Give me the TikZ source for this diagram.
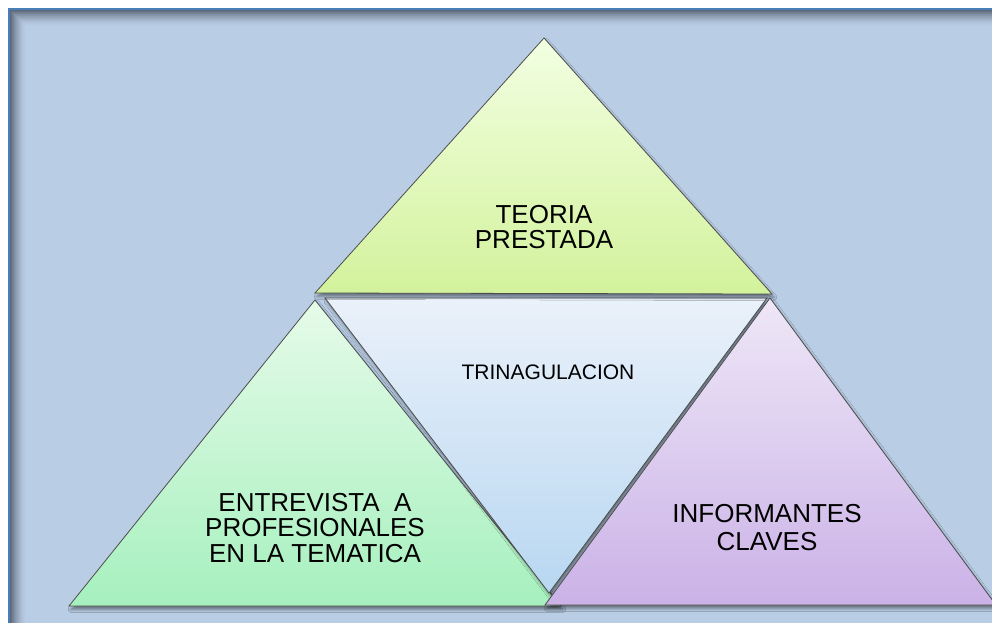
\documentclass[tikz,border=0pt]{standalone}
\usepackage{fontspec}
\setmainfont{Liberation Sans}
\usetikzlibrary{shadows.blur}
\definecolor{bg}{HTML}{B9CDE5}
\definecolor{frameblue}{HTML}{4A7EBB}
\definecolor{shd}{HTML}{4E5868}
\definecolor{edge}{HTML}{4D4D4D}
\definecolor{topA}{HTML}{F2FFE2}
\definecolor{topB}{HTML}{D3F29C}
\definecolor{leftA}{HTML}{E6FBE9}
\definecolor{leftB}{HTML}{A6F0BE}
\definecolor{midA}{HTML}{EAF1FA}
\definecolor{midB}{HTML}{B8D7F1}
\definecolor{rightA}{HTML}{EEE7F7}
\definecolor{rightB}{HTML}{CBB2E7}
\begin{document}
\begin{tikzpicture}[x=1pt,y=-1pt,
  tri/.style={draw=edge, line width=0.8pt, line join=miter,
    blur shadow={shadow xshift=2pt, shadow yshift=-3.5pt, shadow blur radius=3pt, shadow opacity=45}},
  lbl/.style={font=\fontsize{26}{25.8}\selectfont, align=center, inner sep=0pt, text=black}]
\useasboundingbox (0,0) rectangle (992,622);
\clip (0,0) rectangle (992,622);
\fill[white] (0,0) rectangle (992,622);
\fill[bg] (9,9) rectangle (1000,640);
% inner shadow of the frame
\foreach \i in {0,...,15}{
  \pgfmathsetmacro{\op}{0.85*(1-\i/16)^1.6}
  \draw[shd, draw opacity=\op, line width=1.05pt] (10.5+\i,640) -- (10.5+\i,10.5+\i) -- (1000,10.5+\i);
}
\draw[frameblue, line width=2.5pt] (9.2,640) -- (9.2,9.2) -- (1000,9.2);
% triangles
\draw[tri, top color=leftA, bottom color=leftB] (315,300) -- (69,606) -- (561,606) -- cycle;
\draw[tri, top color=midA, bottom color=midB] (325,298) -- (767,298) -- (549,593) -- cycle;
\draw[tri, top color=topA, bottom color=topB] (544,38) -- (315,293) -- (772,294) -- cycle;
\draw[tri, top color=rightA, bottom color=rightB] (770,298) -- (545,605) -- (996,605) -- cycle;
% labels
\node[lbl] (teoria) at (544,227) {TEORIA\\PRESTADA};
\node[lbl, font=\fontsize{21}{21}\selectfont] (trian) at (548,372.5) {TRINAGULACION};
\node[lbl] (entrev) at (315,528) {ENTREVISTA\ \ A\\PROFESIONALES\\EN LA TEMATICA};
\node[lbl, font=\fontsize{26}{28}\selectfont] (inform) at (767,527.4) {INFORMANTES\\CLAVES};
\end{tikzpicture}
\end{document}
